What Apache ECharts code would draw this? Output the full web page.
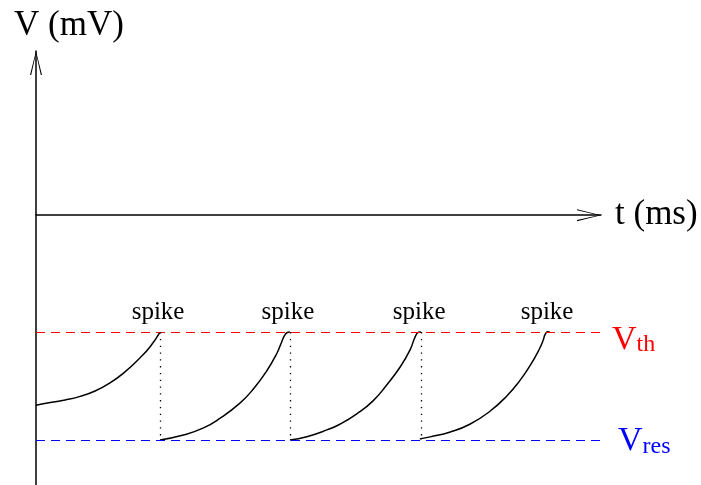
<!DOCTYPE html>
<html>
<head>
<meta charset="utf-8">
<script src="https://cdn.jsdelivr.net/npm/echarts@6/dist/echarts.min.js"></script>
<style>
  html, body { margin: 0; padding: 0; background: #ffffff; }
  #chart { width: 701px; height: 485px; }
</style>
</head>
<body>
<div id="chart"></div>
<script>
// Integrate-and-fire membrane potential: charge up to threshold, spike, reset.
const tMax = 87;            // ms, end of the time axis
const vMin = -120;          // mV, bottom of the potential axis
const vMax = 73;            // mV, top of the potential axis
const vThreshold = -52;     // firing threshold
const vReset = -100;        // reset potential
const spikeTimes = [19.1, 39.1, 59.3, 79.0];
const spikeText = 'spike';
const thresholdName = ['V', 'th'];
const resetName = ['V', 'res'];

// membrane trajectory between spikes, [t (ms), V (mV)]
const cycle1 = [[0, -84.5], [2.2, -83.3], [4.5, -82.2], [6.8, -80.6], [9.1, -78.2],
  [11.4, -74.6], [13.7, -69.7], [16.0, -63.5], [17.6, -58.4], [19.1, -52]];
const cycle2 = [[19.1, -100], [22.7, -97.8], [25.8, -94.6], [28.3, -90.4], [31.4, -83.6],
  [33.5, -77.2], [35.5, -69.4], [37.1, -61.4], [37.8, -56.6], [38.3, -53.4], [38.7, -52.2], [39.1, -52]];
const cycle3 = [[39.1, -100], [41.7, -98.5], [44.8, -95.5], [46.8, -93.0], [49.4, -88.4],
  [51.9, -82.6], [54.0, -75.5], [56.1, -67.4], [57.6, -59.9], [58.4, -54.0], [58.9, -52.1], [59.3, -52]];
const cycle4 = [[59.1, -99.5], [60.7, -98.6], [63.8, -96.4], [66.8, -93.0], [69.9, -87.2],
  [72.5, -80.4], [74.5, -73.6], [76.1, -66.8], [77.4, -60.2], [78.1, -55.6], [78.4, -53.0], [78.8, -51.9], [79.1, -52]];

const serif = 'Liberation Serif, Times New Roman, serif';
// open "V" arrowhead drawn as a thin chevron
const openArrow = 'path://M6,0 L12,24 L10.8,24 L6,2.4 L1.2,24 L0,24 Z';

const axisLineStyle = {
  show: true,
  onZero: true,
  lineStyle: { color: '#000', width: 1.5 },
  symbol: ['none', openArrow],
  symbolSize: [12, 24],
  symbolOffset: [0, -12]
};

const cycles = [cycle1, cycle2, cycle3, cycle4].map(function (d) {
  return {
    type: 'line',
    data: d,
    symbol: 'none',
    smooth: 0.5,
    lineStyle: { color: '#000', width: 1.5 },
    silent: true,
    z: 3
  };
});

const dropLines = spikeTimes.slice(0, 3).map(function (t) {
  return [{ coord: [t, vThreshold] }, { coord: [t, vReset] }];
});

const chart = echarts.init(document.getElementById('chart'), null, { renderer: 'canvas' });
chart.setOption({
  animation: false,
  backgroundColor: '#ffffff',
  grid: { left: 36, right: 100, top: 51, bottom: 0, containLabel: false },
  xAxis: {
    type: 'value', min: 0, max: tMax,
    name: 't (ms)', nameLocation: 'end', nameGap: 14,
    nameTextStyle: { fontFamily: serif, fontSize: 35, color: '#000', padding: [0, 0, 4, 0] },
    axisLine: axisLineStyle,
    axisTick: { show: false }, axisLabel: { show: false }, splitLine: { show: false }
  },
  yAxis: {
    type: 'value', min: vMin, max: vMax,
    name: 'V (mV)', nameLocation: 'end', nameGap: 8,
    nameTextStyle: { fontFamily: serif, fontSize: 35, color: '#000', padding: [0, 0, 0, 66] },
    axisLine: axisLineStyle,
    axisTick: { show: false }, axisLabel: { show: false }, splitLine: { show: false }
  },
  series: cycles.concat([{
    type: 'scatter',
    data: spikeTimes.map(function (t) { return [t, vThreshold]; }),
    symbolSize: 0,
    silent: true,
    label: {
      show: true, position: 'top', distance: 7, offset: [-2, 0],
      formatter: spikeText,
      fontFamily: serif, fontSize: 25, color: '#000000', opacity: 1
    },
    markLine: {
      silent: true,
      symbol: ['none', 'none'],
      animation: false,
      data: [
        {
          yAxis: vThreshold,
          lineStyle: { color: '#ff0000', width: 1.2, type: [9, 6] },
          label: {
            show: true, position: 'end', distance: 11, padding: [15, 0, 0, 0],
            formatter: '{v|' + thresholdName[0] + '}{s|' + thresholdName[1] + '}',
            rich: {
              v: { fontFamily: serif, fontSize: 34, lineHeight: 34, color: '#ff0000', verticalAlign: 'top' },
              s: { fontFamily: serif, fontSize: 24, lineHeight: 24, color: '#ff0000', verticalAlign: 'bottom', padding: [16, 0, 0, 0] }
            }
          }
        },
        {
          yAxis: vReset,
          lineStyle: { color: '#0000ff', width: 1.2, type: [9, 6] },
          label: {
            show: true, position: 'end', distance: 17, padding: [3, 0, 0, 0],
            formatter: '{v|' + resetName[0] + '}{s|' + resetName[1] + '}',
            rich: {
              v: { fontFamily: serif, fontSize: 34, lineHeight: 34, color: '#0000ff', verticalAlign: 'top' },
              s: { fontFamily: serif, fontSize: 24, lineHeight: 24, color: '#0000ff', verticalAlign: 'bottom', padding: [16, 0, 0, 0] }
            }
          }
        }
      ].concat(dropLines.map(function (pair) {
        return [
          Object.assign({}, pair[0], { lineStyle: { color: '#000', width: 1.3, type: [1.3, 5.5] }, label: { show: false } }),
          pair[1]
        ];
      }))
    }
  }])
});
</script>
</body>
</html>
